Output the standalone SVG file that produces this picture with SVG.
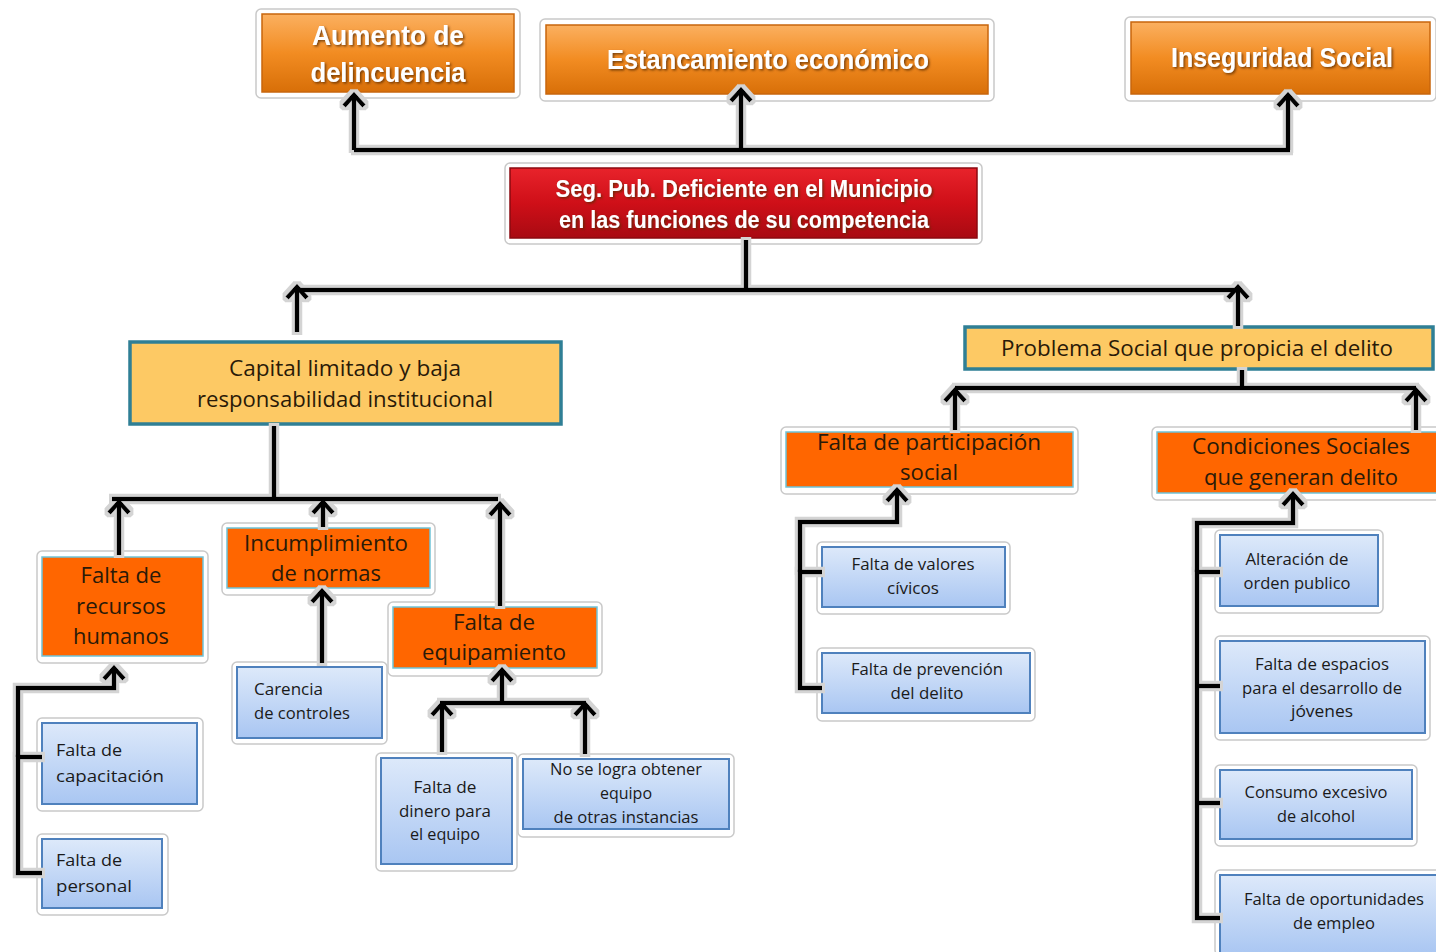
<svg xmlns="http://www.w3.org/2000/svg" width="1436" height="952" viewBox="0 0 1436 952">
<style>
.frame{fill:#fff;stroke:#c9c9c9;stroke-width:1.5}
.top{fill:url(#gOrange);stroke:#c8660c;stroke-width:1.5}
.red{fill:url(#gRed);stroke:#8c0a10;stroke-width:1.5}
.cap{fill:#fdc964;stroke:#2f7f95;stroke-width:3.5}
.org{fill:#ff6600;stroke:#6fc3d8;stroke-width:1.5}
.blue{fill:url(#gBlue);stroke:#4f81bd;stroke-width:2}
.tt{font-family:"Liberation Sans",Arial,sans-serif;font-weight:bold;fill:#fff;text-anchor:middle;filter:url(#tsh)}
.t22{font-family:"Open Sans","Liberation Sans",sans-serif;font-size:21px;fill:#2a1a08;text-anchor:middle}
.t17{font-family:"Open Sans","Liberation Sans",sans-serif;font-size:16px;fill:#1a1a1a;text-anchor:middle}
.l17{font-family:"Open Sans","Liberation Sans",sans-serif;font-size:16px;fill:#1a1a1a}
.ln{fill:none;stroke:#000;stroke-width:4.5;stroke-linejoin:miter}
.ar{fill:none;stroke:#000;stroke-width:4.5;marker-end:url(#arr)}
</style>
<defs>
<linearGradient id="gOrange" x1="0" y1="0" x2="0" y2="1">
<stop offset="0" stop-color="#fbb060"/><stop offset="0.5" stop-color="#f28c22"/><stop offset="1" stop-color="#d86f08"/>
</linearGradient>
<linearGradient id="gRed" x1="0" y1="0" x2="0" y2="1">
<stop offset="0" stop-color="#e8232b"/><stop offset="0.5" stop-color="#cf0f18"/><stop offset="1" stop-color="#a80a12"/>
</linearGradient>
<linearGradient id="gBlue" x1="0" y1="0" x2="0" y2="1">
<stop offset="0" stop-color="#dde9fa"/><stop offset="1" stop-color="#a9c6f2"/>
</linearGradient>
<filter id="tsh" x="-10%" y="-30%" width="120%" height="160%">
<feDropShadow dx="1.5" dy="1.5" stdDeviation="1" flood-color="#5a2a00" flood-opacity="0.8"/>
</filter>
<filter id="halo" x="-5%" y="-5%" width="110%" height="110%">
<feMorphology in="SourceAlpha" operator="dilate" radius="2.5" result="d"/>
<feFlood flood-color="#d4d4d4"/>
<feComposite in2="d" operator="in" result="h"/>
<feMerge><feMergeNode in="h"/><feMergeNode in="SourceGraphic"/></feMerge>
</filter>
<marker id="arr" viewBox="0 0 20 24" refX="15" refY="12" markerWidth="20" markerHeight="24" markerUnits="userSpaceOnUse" orient="auto">
<path d="M4,2 L15,12 L4,22" fill="none" stroke="#000" stroke-width="4.5"/>
</marker>
</defs>
<rect width="1436" height="952" fill="#fff"/>

<g id="n-aumento">
<rect class="frame" x="256" y="9" width="264" height="89" rx="5"/>
<rect class="top" x="262" y="14" width="252" height="78"/>
<text class="tt" x="388" y="45" font-size="28" textLength="152" lengthAdjust="spacingAndGlyphs">Aumento de</text>
<text class="tt" x="388" y="82" font-size="28" textLength="155" lengthAdjust="spacingAndGlyphs">delincuencia</text>
</g>
<g id="n-estancamiento">
<rect class="frame" x="540" y="19" width="454" height="82" rx="5"/>
<rect class="top" x="546" y="25" width="442" height="69"/>
<text class="tt" x="768" y="69" font-size="28" textLength="322" lengthAdjust="spacingAndGlyphs">Estancamiento económico</text>
</g>
<g id="n-inseguridad">
<rect class="frame" x="1125" y="17" width="311" height="84" rx="5"/>
<rect class="top" x="1131" y="22" width="299" height="72"/>
<text class="tt" x="1282" y="67" font-size="28" textLength="222" lengthAdjust="spacingAndGlyphs">Inseguridad Social</text>
</g>
<g id="n-segpub">
<rect class="frame" x="505" y="163" width="477" height="81" rx="5"/>
<rect class="red" x="510" y="168" width="467" height="70"/>
<text class="tt" x="744" y="197" font-size="24" textLength="377" lengthAdjust="spacingAndGlyphs">Seg. Pub. Deficiente en el Municipio</text>
<text class="tt" x="744" y="228" font-size="24" textLength="370" lengthAdjust="spacingAndGlyphs">en las funciones de su competencia</text>
</g>

<g id="n-capital">
<rect class="cap" x="130" y="342" width="431" height="82"/>
<text class="t22" x="345" y="376" textLength="232" lengthAdjust="spacingAndGlyphs">Capital limitado y baja</text>
<text class="t22" x="345" y="407" textLength="296" lengthAdjust="spacingAndGlyphs">responsabilidad institucional</text>
</g>
<g id="n-problema">
<rect class="cap" x="965" y="327" width="468" height="42"/>
<text class="t22" x="1197" y="356" textLength="392" lengthAdjust="spacingAndGlyphs">Problema Social que propicia el delito</text>
</g>

<g id="n-recursos">
<rect class="frame" x="37" y="551" width="171" height="112" rx="5"/>
<rect class="org" x="42" y="557" width="161" height="99"/>
<text class="t22" x="121" y="583" textLength="81" lengthAdjust="spacingAndGlyphs">Falta de</text>
<text class="t22" x="121" y="614" textLength="90" lengthAdjust="spacingAndGlyphs">recursos</text>
<text class="t22" x="121" y="644" textLength="96" lengthAdjust="spacingAndGlyphs">humanos</text>
</g>
<g id="n-incumplimiento">
<rect class="frame" x="222" y="523" width="213" height="72" rx="5"/>
<rect class="org" x="227" y="528" width="203" height="60"/>
<text class="t22" x="326" y="551" textLength="164" lengthAdjust="spacingAndGlyphs">Incumplimiento</text>
<text class="t22" x="326" y="581" textLength="110" lengthAdjust="spacingAndGlyphs">de normas</text>
</g>
<g id="n-equipamiento">
<rect class="frame" x="388" y="602" width="214" height="74" rx="5"/>
<rect class="org" x="393" y="607" width="204" height="61"/>
<text class="t22" x="494" y="630" textLength="82" lengthAdjust="spacingAndGlyphs">Falta de</text>
<text class="t22" x="494" y="660" textLength="144" lengthAdjust="spacingAndGlyphs">equipamiento</text>
</g>
<g id="n-participacion">
<rect class="frame" x="781" y="427" width="297" height="67" rx="5"/>
<rect class="org" x="786" y="432" width="287" height="55"/>
<text class="t22" x="929" y="450" textLength="224" lengthAdjust="spacingAndGlyphs">Falta de participación</text>
<text class="t22" x="929" y="480" textLength="58" lengthAdjust="spacingAndGlyphs">social</text>
</g>
<g id="n-condiciones">
<rect class="frame" x="1152" y="427" width="290" height="73" rx="5"/>
<rect class="org" x="1157" y="432" width="285" height="61"/>
<text class="t22" x="1301" y="454" textLength="218" lengthAdjust="spacingAndGlyphs">Condiciones Sociales</text>
<text class="t22" x="1301" y="485" textLength="194" lengthAdjust="spacingAndGlyphs">que generan delito</text>
</g>

<g id="n-carencia">
<rect class="frame" x="232" y="662" width="155" height="82" rx="5"/>
<rect class="blue" x="237" y="667" width="145" height="71"/>
<text class="l17" x="254" y="695" textLength="69" lengthAdjust="spacingAndGlyphs">Carencia</text>
<text class="l17" x="254" y="719" textLength="96" lengthAdjust="spacingAndGlyphs">de controles</text>
</g>
<g id="n-capacitacion">
<rect class="frame" x="37" y="718" width="166" height="93" rx="5"/>
<rect class="blue" x="42" y="723" width="155" height="81"/>
<text class="l17" x="56" y="756" textLength="66" lengthAdjust="spacingAndGlyphs">Falta de</text>
<text class="l17" x="56" y="782" textLength="108" lengthAdjust="spacingAndGlyphs">capacitación</text>
</g>
<g id="n-personal">
<rect class="frame" x="37" y="834" width="131" height="81" rx="5"/>
<rect class="blue" x="42" y="839" width="120" height="69"/>
<text class="l17" x="56" y="866" textLength="66" lengthAdjust="spacingAndGlyphs">Falta de</text>
<text class="l17" x="56" y="892" textLength="76" lengthAdjust="spacingAndGlyphs">personal</text>
</g>
<g id="n-dinero">
<rect class="frame" x="376" y="753" width="141" height="118" rx="5"/>
<rect class="blue" x="381" y="758" width="131" height="106"/>
<text class="t17" x="445" y="793" textLength="63" lengthAdjust="spacingAndGlyphs">Falta de</text>
<text class="t17" x="445" y="817" textLength="92" lengthAdjust="spacingAndGlyphs">dinero para</text>
<text class="t17" x="445" y="840" textLength="70" lengthAdjust="spacingAndGlyphs">el equipo</text>
</g>
<g id="n-nologra">
<rect class="frame" x="518" y="754" width="216" height="83" rx="5"/>
<rect class="blue" x="523" y="759" width="206" height="70"/>
<text class="t17" x="626" y="775" textLength="152" lengthAdjust="spacingAndGlyphs">No se logra obtener</text>
<text class="t17" x="626" y="799" textLength="52" lengthAdjust="spacingAndGlyphs">equipo</text>
<text class="t17" x="626" y="823" textLength="145" lengthAdjust="spacingAndGlyphs">de otras instancias</text>
</g>
<g id="n-valores">
<rect class="frame" x="817" y="542" width="193" height="72" rx="5"/>
<rect class="blue" x="822" y="547" width="183" height="60"/>
<text class="t17" x="913" y="570" textLength="123" lengthAdjust="spacingAndGlyphs">Falta de valores</text>
<text class="t17" x="913" y="594" textLength="52" lengthAdjust="spacingAndGlyphs">cívicos</text>
</g>
<g id="n-prevencion">
<rect class="frame" x="817" y="648" width="218" height="73" rx="5"/>
<rect class="blue" x="822" y="653" width="208" height="60"/>
<text class="t17" x="927" y="675" textLength="152" lengthAdjust="spacingAndGlyphs">Falta de prevención</text>
<text class="t17" x="927" y="699" textLength="73" lengthAdjust="spacingAndGlyphs">del delito</text>
</g>
<g id="n-alteracion">
<rect class="frame" x="1215" y="530" width="168" height="83" rx="5"/>
<rect class="blue" x="1220" y="535" width="158" height="71"/>
<text class="t17" x="1297" y="565" textLength="103" lengthAdjust="spacingAndGlyphs">Alteración de</text>
<text class="t17" x="1297" y="589" textLength="107" lengthAdjust="spacingAndGlyphs">orden publico</text>
</g>
<g id="n-espacios">
<rect class="frame" x="1215" y="636" width="215" height="104" rx="5"/>
<rect class="blue" x="1220" y="641" width="205" height="92"/>
<text class="t17" x="1322" y="670" textLength="134" lengthAdjust="spacingAndGlyphs">Falta de espacios</text>
<text class="t17" x="1322" y="694" textLength="160" lengthAdjust="spacingAndGlyphs">para el desarrollo de</text>
<text class="t17" x="1322" y="717" textLength="62" lengthAdjust="spacingAndGlyphs">jóvenes</text>
</g>
<g id="n-consumo">
<rect class="frame" x="1215" y="765" width="202" height="81" rx="5"/>
<rect class="blue" x="1220" y="770" width="192" height="69"/>
<text class="t17" x="1316" y="798" textLength="143" lengthAdjust="spacingAndGlyphs">Consumo excesivo</text>
<text class="t17" x="1316" y="822" textLength="78" lengthAdjust="spacingAndGlyphs">de alcohol</text>
</g>
<g id="n-oportunidades">
<rect class="frame" x="1215" y="870" width="226" height="85" rx="5"/>
<rect class="blue" x="1220" y="875" width="221" height="80"/>
<text class="t17" x="1334" y="905" textLength="180" lengthAdjust="spacingAndGlyphs">Falta de oportunidades</text>
<text class="t17" x="1334" y="929" textLength="82" lengthAdjust="spacingAndGlyphs">de empleo</text>
</g>

<g id="connectors" filter="url(#halo)">
<path class="ln" d="M354,150 H1290"/>
<path class="ar" d="M354,150 V95"/>
<path class="ar" d="M741,150 V90"/>
<path class="ar" d="M1288,150 V95"/>
<path class="ln" d="M746,240 V288"/>
<path class="ln" d="M295,290 H1240"/>
<path class="ar" d="M297,332 V287"/>
<path class="ar" d="M1238,326 V287"/>
<path class="ln" d="M274,426 V499"/>
<path class="ln" d="M112,499 H498"/>
<path class="ar" d="M119,555 V502"/>
<path class="ar" d="M323,527 V502"/>
<path class="ar" d="M500,606 V504"/>
<path class="ar" d="M322,663 V591"/>
<path class="ln" d="M42,757 H18 V873 H42"/>
<path class="ar" d="M18,757 V688 H114 V668"/>
<path class="ln" d="M440,703 H586"/>
<path class="ar" d="M502,703 V670"/>
<path class="ar" d="M442,752 V704"/>
<path class="ar" d="M585,754 V704"/>
<path class="ln" d="M1242,370 V388"/>
<path class="ln" d="M955,388 H1416"/>
<path class="ar" d="M955,430 V390"/>
<path class="ar" d="M1416,430 V390"/>
<path class="ln" d="M822,572 H800 V688 H822"/>
<path class="ar" d="M800,572 V522 H897 V490"/>
<path class="ln" d="M1220,572 H1197 V918 H1220"/>
<path class="ln" d="M1197,686 H1220"/>
<path class="ln" d="M1197,803 H1220"/>
<path class="ar" d="M1197,572 V523 H1293 V494"/>
</g>
</svg>
